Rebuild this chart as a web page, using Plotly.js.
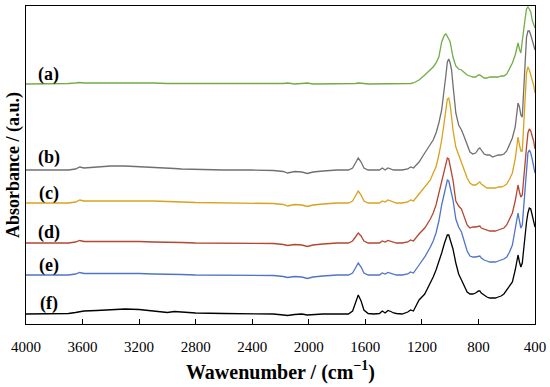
<!DOCTYPE html>
<html>
<head>
<meta charset="utf-8">
<script src="https://cdn.plot.ly/plotly-3.0.1.min.js"></script>
<style>html,body{margin:0;padding:0;background:#fff;}#chart{width:550px;height:387px;}</style>
</head>
<body>
<div id="chart"></div>
<script>
// Wavenumbers (cm-1)
const wavenumber = [4000,3800,3700,3650,3620,3590,3500,3400,3300,3200,
  3100,3000,2950,2900,2800,2600,2400,2250,2180,2150,
  2100,2050,2010,1970,1900,1800,1720,1690,1670,1650,
  1630,1610,1580,1540,1500,1480,1460,1440,1420,1400,
  1380,1340,1300,1280,1260,1220,1180,1140,1120,1100,
  1080,1060,1040,1030,1020,1010,1000,990,980,960,
  940,920,900,880,860,840,820,800,790,780,
  760,740,720,700,680,660,640,620,600,580,
  560,540,530,520,510,500,490,480,470,460,
  450,440,430,420,410,400];

// Offset absorbance traces (arbitrary units)
const seriesA = [241,241,241.5,242,242.5,242,242,242.5,242.5,242,
  242,241.5,241.5,241,241,241,241,241,241.5,242,
  241,241.5,242,241,241,241,241,241,241.5,242,
  242,241.5,241,241,241,241.5,241,241.5,241,241,
  241,241,241,241.5,242,245,250,255,258,262,
  268,283,290,291,289,286,283,276,268,259,
  256,255,252,250,249,248,248,250,250,249,
  247,247,248,248,248,248,249,249,251,256,
  262,270,277,282,276,272,284,297,306,316,
  318,316,313,305,300,297];
const seriesB = [155,155,155,156,158,157,158,159,159,158.5,
  158,157,156.5,156,155.5,155,155,154.5,153.5,152,
  153.5,153,151.5,153,154,155,155,157,162,167,
  163,157,155,155,155,157,155,157,156,155,
  155,155,156,158,157,163,172,180,185,192,
  202,215,235,250,263,266,262,255,240,212,
  200,195,188,180,173,171,172,176,177,175,
  171,170,170,168,169,170,170,171,174,180,
  187,198,210,222,218,210,208,235,265,288,
  294,294,290,285,280,275];
const seriesC = [122,122,122,123,125,124,124,124.5,124.5,124,
  124,123.5,123,123,122.5,122,122,121.5,120.5,119,
  120.5,120,118.5,120,121,122,122,124,129,134,
  130,124,122,122,122,124,123,125,124,122.5,
  122,122,123,125,124,131,138,145,152,158,
  170,185,205,218,226,227,220,208,195,178,
  170,162,155,147,142,140,140,142,143,141,
  139,137,137,137,137,138,138,139,141,146,
  152,166,178,188,180,174,174,200,230,252,
  258,255,250,246,240,232];
const seriesD = [82,82,82,83,84.5,83.5,83.5,84,84,83.5,
  83,83,82.5,82.5,82,82,82,81.5,80.5,79.5,
  80.5,80,78.5,80,81,82,82,84,88,92,
  89,84,82,82,82,84,83,84.5,83.5,82.5,
  82,82,83,85,84,91,97,106,112,120,
  132,145,157,163,167,166,160,152,145,124,
  119,116,108,100,97,98,98,99,99,97,
  96,95,94,94,94,95,96,97,100,106,
  112,124,133,140,133,128,130,148,165,178,
  192,196,194,190,184,176];
const seriesE = [50,50,50,51,52.5,51.5,51.5,52,52,51.5,
  51,51,50.5,50.5,50,50,50,49.5,48.5,47.5,
  48.5,48,46.5,48,49,50,50,52,57,62,
  58,52,50,50,50,52,51,52.5,51.5,50.5,
  50,50,51,53,52,60,68,78,84,92,
  104,120,134,140,145,144,138,132,125,106,
  98,93,84,74,69,68,68,69,69,67,
  65,64,63,63,63,64,65,66,68,73,
  80,95,106,112,104,97,100,118,143,160,
  172,175,172,166,160,152];
const seriesF = [11,11,11.5,12.5,13.5,14,14.5,15.5,16,15.5,
  14,12.5,13.5,13,12,11.5,11,11,10,9.5,
  10.5,11,10,10.5,11,11,11,14,22,30,
  24,15,11.5,11,11.5,14,12,14.5,13.5,12,
  11.5,11,13,15,14,25,31,42,48,55,
  63,72,82,87,90,90,85,80,76,62,
  51,45,39,33,31,31,32,34,34,32,
  30,28,27,27,27,28,29,31,35,40,
  43,55,63,70,63,58,62,78,90,103,
  112,117,116,110,104,98];

const sampleLabels = ['(a)','(b)','(c)','(d)','(e)','(f)'];
const labelLevels = [251,168,132,93,60,22];

const allSeries = [seriesA, seriesB, seriesC, seriesD, seriesE, seriesF];
const colors = ['#70AD47','#707070','#D9A21B','#B5462F','#4F74C8','#000000'];

const traces = allSeries.map((ys, i) => ({
  x: wavenumber, y: ys, type: 'scatter', mode: 'lines',
  line: {color: colors[i], width: 1.3},
  hoverinfo: 'skip', showlegend: false
}));

const serif = "'Liberation Serif', 'Times New Roman', serif";
const annotations = sampleLabels.map((t, i) => ({
  x: 3840, y: labelLevels[i], xref: 'x', yref: 'y',
  text: '<b>' + t + '</b>', showarrow: false,
  xanchor: 'center', yanchor: 'middle',
  font: {family: serif, size: 18, color: '#000'}
}));

const layout = {
  width: 550, height: 387,
  margin: {l: 26, r: 15, t: 6, b: 63},
  paper_bgcolor: '#fff', plot_bgcolor: '#fff',
  xaxis: {
    range: [4000, 400], autorange: false,
    tickmode: 'array', tickvals: [4000,3600,3200,2800,2400,2000,1600,1200,800,400],
    ticks: 'inside', ticklen: 5, tickcolor: '#000', tickwidth: 1,
    ticklabelstandoff: 9,
    showgrid: false, zeroline: false,
    showline: true, linecolor: '#000', linewidth: 1, mirror: true,
    tickfont: {family: serif, size: 15, color: '#000'},
    title: {text: '<b>Wawenumber / (cm<sup>−1</sup>)</b>', font: {family: serif, size: 20, color: '#000'}, standoff: 10}
  },
  yaxis: {
    range: [1, 319], autorange: false,
    showticklabels: false, ticks: '',
    showgrid: false, zeroline: false,
    showline: true, linecolor: '#000', linewidth: 1, mirror: true,
    title: {text: '<b>Absorbance / (a.u.)</b>', font: {family: serif, size: 18, color: '#000'}, standoff: 0}
  },
  annotations: annotations
};

Plotly.newPlot('chart', traces, layout, {displayModeBar: false, staticPlot: true});
</script>
</body>
</html>
